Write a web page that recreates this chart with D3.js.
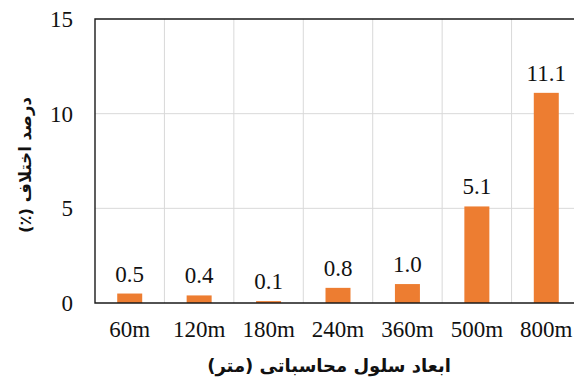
<!DOCTYPE html>
<html>
<head>
<meta charset="utf-8">
<script src="https://cdn.jsdelivr.net/npm/d3@7"></script>
<style>
  html, body { margin: 0; padding: 0; background: #fff; }
  svg { display: block; }
  .num { font-family: "Liberation Serif", "Times New Roman", Times, serif; font-size: 23px; fill: #111; }
  .ttl { font-family: "DejaVu Sans", sans-serif; font-weight: bold; fill: #111; }
</style>
</head>
<body>
<svg id="chart" width="574" height="378"></svg>
<script>
// Cell sizes and the percentage difference measured for each
const categories = ["60m", "120m", "180m", "240m", "360m", "500m", "800m"];
const values = [0.5, 0.4, 0.1, 0.8, 1.0, 5.1, 11.1];
const yTicks = [0, 5, 10, 15];
const xTitle = "ابعاد سلول محاسباتی (متر)";
const yTitle = "درصد اختلاف (٪)";

const svg = d3.select("#chart");
const m = { left: 95, top: 19, right: 581, bottom: 303 };

const x = d3.scaleBand().domain(categories).range([m.left, m.right]).paddingInner(0).paddingOuter(0);
const y = d3.scaleLinear().domain([0, 15]).range([m.bottom, m.top]);
const barW = x.bandwidth() * 0.36;

// horizontal gridlines
svg.append("g").selectAll("line").data(yTicks.filter(d => d > 0 && d < 15)).join("line")
  .attr("x1", m.left).attr("x2", m.right)
  .attr("y1", d => y(d)).attr("y2", d => y(d))
  .attr("stroke", "#d9d9d9").attr("stroke-width", 1);

// vertical gridlines between categories
svg.append("g").selectAll("line").data(categories.slice(1)).join("line")
  .attr("x1", d => x(d)).attr("x2", d => x(d))
  .attr("y1", m.top).attr("y2", m.bottom)
  .attr("stroke", "#d9d9d9").attr("stroke-width", 1);

// bars
svg.append("g").selectAll("rect").data(values).join("rect")
  .attr("x", (d, i) => x(categories[i]) + x.bandwidth() / 2 - barW / 2)
  .attr("y", d => y(d))
  .attr("width", barW)
  .attr("height", d => y(0) - y(d))
  .attr("fill", "#ED7D31");

// value labels
svg.append("g").selectAll("text").data(values).join("text")
  .attr("class", "num")
  .attr("x", (d, i) => x(categories[i]) + x.bandwidth() / 2)
  .attr("y", d => y(d) - 12)
  .attr("text-anchor", "middle")
  .text(d => d.toFixed(1));

// frame: left, top, bottom
svg.append("path")
  .attr("d", `M${m.right},${m.top}H${m.left}V${m.bottom}H${m.right}`)
  .attr("fill", "none").attr("stroke", "#1a1a1a").attr("stroke-width", 1.4);

// y axis labels
const yAxis = d3.axisLeft(y).tickValues(yTicks).tickSize(0).tickPadding(22);
svg.append("g").attr("transform", `translate(${m.left},0)`).call(yAxis)
  .attr("font-family", null).attr("font-size", null)
  .call(g => g.select(".domain").remove())
  .call(g => g.selectAll("text").attr("class", "num").attr("fill", null));

// x axis labels
const xAxis = d3.axisBottom(x).tickSize(0).tickPadding(18);
svg.append("g").attr("transform", `translate(0,${m.bottom})`).call(xAxis)
  .attr("font-family", null).attr("font-size", null)
  .call(g => g.select(".domain").remove())
  .call(g => g.selectAll("text").attr("class", "num").attr("fill", null));

// axis titles
svg.append("text")
  .attr("class", "ttl")
  .attr("x", 329).attr("y", 372)
  .attr("text-anchor", "middle").attr("direction", "rtl")
  .style("font-size", "18px")
  .text(xTitle);

svg.append("text")
  .attr("class", "ttl")
  .attr("transform", "translate(31,165) rotate(-90)")
  .attr("text-anchor", "middle").attr("direction", "rtl")
  .style("font-size", "16.5px")
  .text(yTitle);
</script>
</body>
</html>
